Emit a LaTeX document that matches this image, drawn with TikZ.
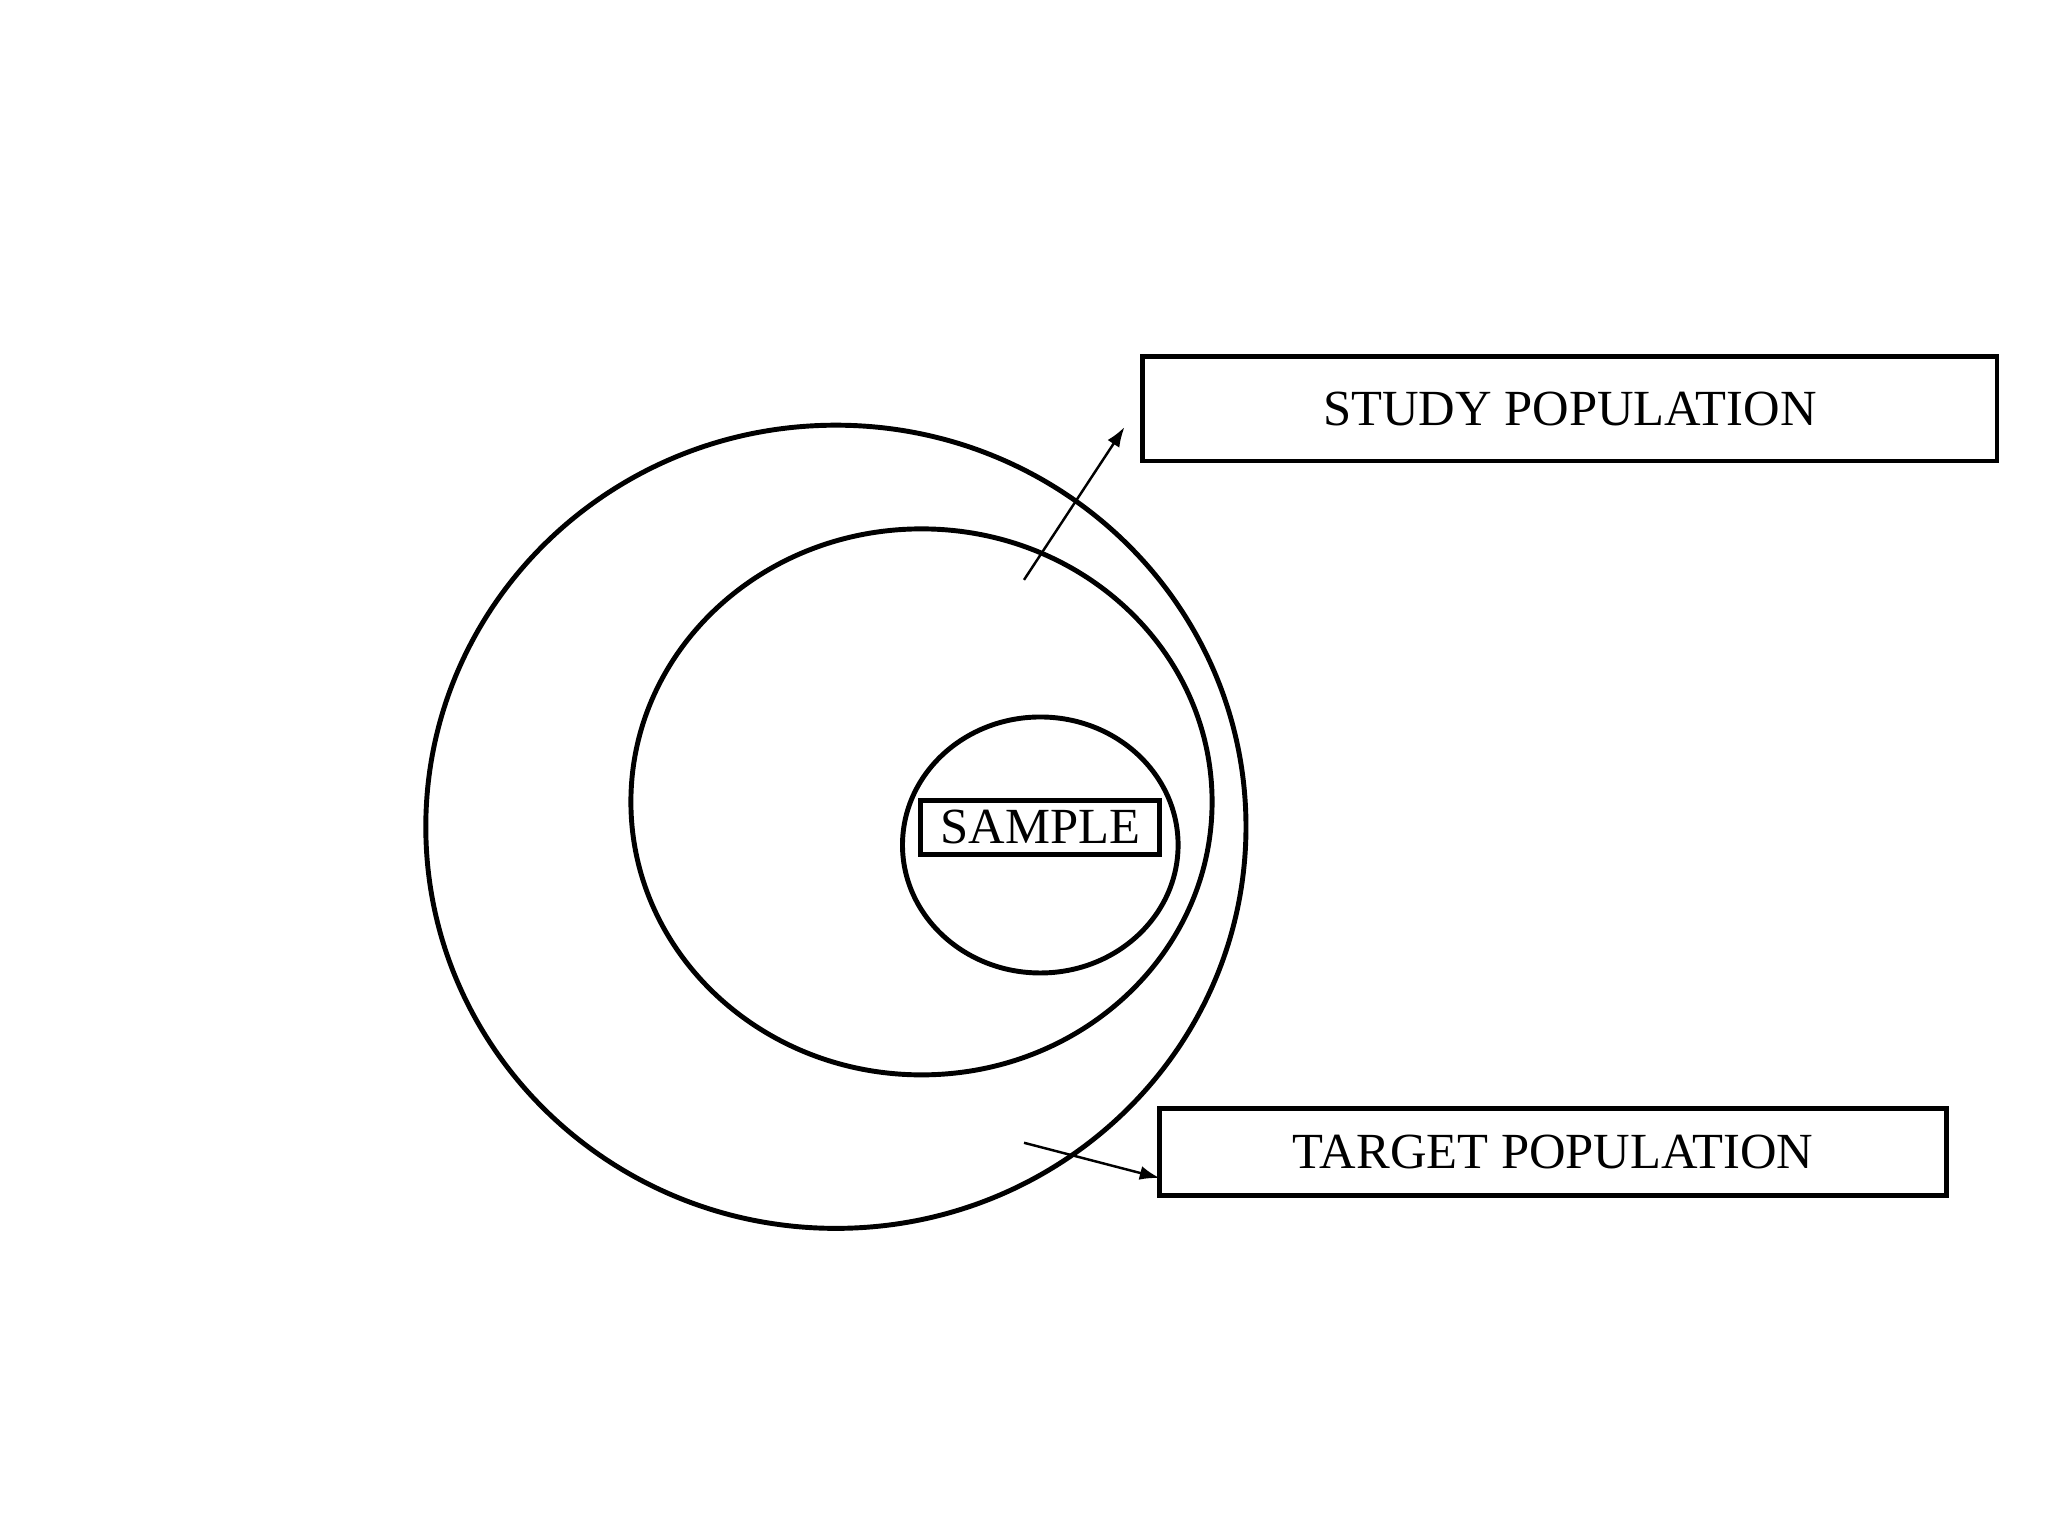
\documentclass[tikz,border=0pt]{standalone}
\usepackage{fontspec}
\setmainfont{Liberation Serif}
\usetikzlibrary{shapes.geometric,arrows.meta}
\begin{document}
\begin{tikzpicture}[x=1cm,y=1cm,
  ring/.style={draw,ellipse,line width=1.4pt,inner sep=0pt},
  labelbox/.style={draw,rectangle,line width=1.4pt,inner sep=0pt,font=\fontsize{14.4pt}{16pt}\selectfont},
  pointer/.style={line width=0.7pt,-{Latex[length=0.2cm,width=0.14cm]}}]
\useasboundingbox (0,0) rectangle (20.48,15.36);
\node[ring,minimum width=8.202cm,minimum height=8.032cm] (outer) at (8.359,7.092) {};
\node[ring,minimum width=5.812cm,minimum height=5.460cm] (middle) at (9.215,7.341) {};
\node[ring,minimum width=2.756cm,minimum height=2.560cm] (inner) at (10.403,6.910) {};
\node[labelbox,minimum width=2.39cm,minimum height=0.536cm] (sample) at (10.403,7.086) {SAMPLE};
\node[labelbox,minimum width=8.542cm,minimum height=1.045cm] (study) at (15.699,11.272) {STUDY POPULATION};
\node[labelbox,minimum width=7.863cm,minimum height=0.862cm] (target) at (15.53,3.84) {TARGET POPULATION};
\coordinate (s1) at (10.24,9.561);
\coordinate (e1) at (11.245,11.089);
\coordinate (s2) at (10.24,3.932);
\coordinate (e2) at (11.598,3.579);
\draw[pointer] (s1) -- (e1);
\draw[pointer] (s2) -- (e2);
\end{tikzpicture}
\end{document}
